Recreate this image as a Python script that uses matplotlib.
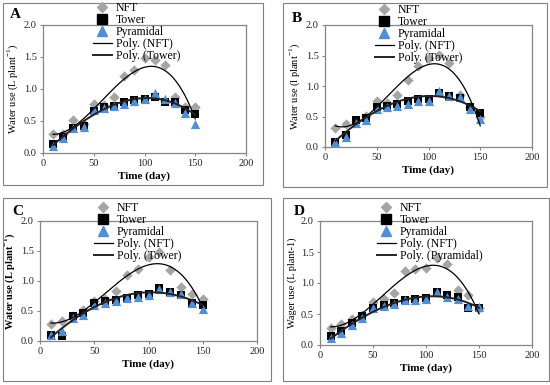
import numpy as np
import matplotlib
matplotlib.use("Agg")
import matplotlib.pyplot as plt
from matplotlib.patches import Rectangle
from matplotlib.lines import Line2D

plt.rcParams['font.family'] = ['Liberation Serif', 'DejaVu Serif']
plt.rcParams['mathtext.fontset'] = 'custom'
plt.rcParams['mathtext.rm'] = 'Liberation Serif'
plt.rcParams['mathtext.bf'] = 'Liberation Serif:bold'

days = [10, 20, 30, 40, 50, 60, 70, 80, 90, 100, 110, 120, 130, 140, 150]

nft_a = [0.29, 0.30, 0.52, 0.45, 0.77, 0.75, 0.87, 1.21, 1.29, 1.48, 1.46, 1.38, 0.88, 0.72, 0.72]
tower_a = [0.14, 0.25, 0.39, 0.42, 0.66, 0.72, 0.74, 0.80, 0.83, 0.85, 0.88, 0.80, 0.80, 0.67, 0.61]
pyr_a = [0.11, 0.23, 0.39, 0.41, 0.67, 0.70, 0.73, 0.77, 0.82, 0.85, 0.93, 0.84, 0.78, 0.62, 0.46]

nft_b = [0.31, 0.37, 0.42, 0.51, 0.76, 0.72, 0.86, 1.10, 1.32, 1.46, 1.51, 1.37, 0.86, 0.65, 0.49]
tower_b = [0.09, 0.20, 0.44, 0.47, 0.66, 0.68, 0.71, 0.75, 0.78, 0.79, 0.89, 0.83, 0.80, 0.66, 0.56]
pyr_b = [0.08, 0.17, 0.40, 0.45, 0.62, 0.65, 0.68, 0.71, 0.75, 0.76, 0.91, 0.84, 0.82, 0.63, 0.46]

nft_c = [0.28, 0.34, 0.42, 0.52, 0.66, 0.70, 0.84, 1.10, 1.20, 1.40, 1.49, 1.19, 0.90, 0.79, 0.70]
tower_c = [0.10, 0.09, 0.41, 0.46, 0.63, 0.67, 0.69, 0.71, 0.76, 0.78, 0.88, 0.81, 0.76, 0.64, 0.60]
pyr_c = [0.10, 0.17, 0.39, 0.43, 0.60, 0.63, 0.66, 0.71, 0.74, 0.76, 0.87, 0.82, 0.79, 0.63, 0.54]

nft_d = [0.28, 0.34, 0.42, 0.49, 0.70, 0.75, 0.84, 1.20, 1.23, 1.25, 1.40, 1.30, 0.88, 0.80, 0.59]
tower_d = [0.15, 0.23, 0.35, 0.46, 0.60, 0.65, 0.67, 0.73, 0.74, 0.76, 0.86, 0.80, 0.78, 0.59, 0.60]
pyr_d = [0.12, 0.20, 0.32, 0.44, 0.59, 0.63, 0.66, 0.72, 0.72, 0.75, 0.86, 0.78, 0.74, 0.63, 0.62]

series_labels = ["NFT", "Tower", "Pyramidal"]
y_ticks = [0.0, 0.5, 1.0, 1.5, 2.0]
x_ticks = [0, 50, 100, 150, 200]

W, H = 550, 385
fig = plt.figure(figsize=(W / 100, H / 100), dpi=100)

GREY = '#a5a5a5'
BLUE = '#4f8ed8'

panels = [
    dict(letter='A', rect=(43, 25, 246, 153), border=(3, 3, 263, 185),
         data=(nft_a, tower_a, pyr_a), trend2=1, trend2_label='Poly. (Tower)',
         ylabel='Water use (L plant$^{-1}$)', ybold=False,
         letter_xy=(10, 15), leg_xy=(93, 2)),
    dict(letter='B', rect=(325, 25, 532, 147), border=(283, 3, 547, 187),
         data=(nft_b, tower_b, pyr_b), trend2=1, trend2_label='Poly. (Tower)',
         ylabel='Water use (l plant$^{-1}$)', ybold=False,
         letter_xy=(292, 18), leg_xy=(375, 4)),
    dict(letter='C', rect=(40, 221, 257, 341), border=(3, 198, 271, 381),
         data=(nft_c, tower_c, pyr_c), trend2=1, trend2_label='Poly. (Tower)',
         ylabel='Water use (L plant$^{\\mathbf{-1}}$)', ybold=True,
         letter_xy=(12, 212), leg_xy=(94, 202)),
    dict(letter='D', rect=(320, 221, 532, 345), border=(283, 198, 549, 381),
         data=(nft_d, tower_d, pyr_d), trend2=2, trend2_label='Poly. (Pyramidal)',
         ylabel='Wager use (L plant-1)', ybold=False,
         letter_xy=(294, 212), leg_xy=(377, 202)),
]

for p in panels:
    bx0, by0, bx1, by1 = p['border']
    fig.patches.append(Rectangle((bx0 / W, 1 - by1 / H), (bx1 - bx0) / W, (by1 - by0) / H,
                                 transform=fig.transFigure, fill=False,
                                 edgecolor='#808080', linewidth=0.8))
    x0, y0, x1, y1 = p['rect']
    ax = fig.add_axes([x0 / W, 1 - y1 / H, (x1 - x0) / W, (y1 - y0) / H])
    nft, tower, pyr = p['data']
    xs = np.array(days, dtype=float)
    ax.scatter(days, nft, marker='D', s=28, color=GREY, zorder=3, linewidths=0)
    ax.scatter(days, tower, marker='s', s=38, color='black', zorder=3, linewidths=0)
    ax.scatter(days, pyr, marker='^', s=44, color=BLUE, zorder=4, linewidths=0)
    xf = np.linspace(min(days), max(days), 200)
    c1 = np.polyfit(xs, np.array(nft), 3)
    ax.plot(xf, np.polyval(c1, xf), color='black', lw=0.9, zorder=5)
    second = p['data'][p['trend2']]
    c2 = np.polyfit(xs, np.array(second), 3)
    ax.plot(xf, np.polyval(c2, xf), color='#222222', lw=1.4, zorder=5)

    ax.set_xlim(0, 200)
    ax.set_ylim(0, 2.0)
    ax.set_xticks(x_ticks)
    ax.set_yticks(y_ticks)
    ax.set_yticklabels([f"{v:.1f}" for v in y_ticks])
    for s in ax.spines.values():
        s.set_color('#868686')
        s.set_linewidth(0.9)
    ax.tick_params(axis='both', labelsize=7.5, length=2.5, width=0.8,
                   color='#868686', pad=2, labelcolor='#222222')
    ax.set_xlabel('Time (day)', fontsize=8, fontweight='bold', labelpad=2)
    ax.set_ylabel(p['ylabel'], fontsize=7.5, fontweight='bold' if p['ybold'] else 'normal',
                  labelpad=3)

    fig.text(p['letter_xy'][0] / W, 1 - p['letter_xy'][1] / H, p['letter'],
             fontsize=11, fontweight='bold', ha='left', va='center')

    handles = [
        Line2D([], [], marker='D', ls='none', color=GREY, markersize=5.5),
        Line2D([], [], marker='s', ls='none', color='black', markersize=6.5),
        Line2D([], [], marker='^', ls='none', color=BLUE, markersize=7),
        Line2D([], [], color='black', lw=0.9),
        Line2D([], [], color='#222222', lw=1.4),
    ]
    labels = series_labels + ['Poly. (NFT)', p['trend2_label']]
    lx, ly = p['leg_xy']
    fig.legend(handles, labels, loc='upper left',
               bbox_to_anchor=(lx / W, 1 - ly / H), bbox_transform=fig.transFigure,
               frameon=False, fontsize=8.5, labelspacing=0.0, handlelength=1.6,
               handletextpad=0.35, borderpad=0, borderaxespad=0)

fig.savefig('out.png', dpi=100)
